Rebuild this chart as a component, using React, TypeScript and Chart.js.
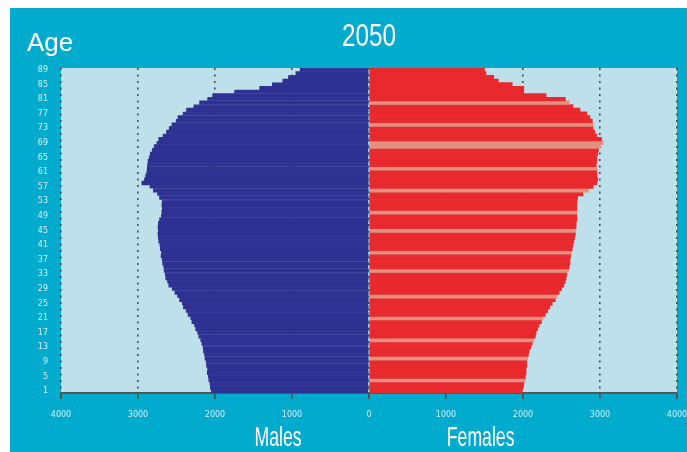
import React, { useEffect, useRef } from "react";
import { Chart, registerables } from "chart.js";

Chart.register(...registerables);

// Ages 1..89 (bottom to top)
const ages: number[] = [
  1, 2, 3, 4, 5, 6, 7, 8, 9, 10, 11, 12, 13, 14, 15, 16, 17, 18, 19, 20,
  21, 22, 23, 24, 25, 26, 27, 28, 29, 30, 31, 32, 33, 34, 35, 36, 37, 38, 39, 40,
  41, 42, 43, 44, 45, 46, 47, 48, 49, 50, 51, 52, 53, 54, 55, 56, 57, 58, 59, 60,
  61, 62, 63, 64, 65, 66, 67, 68, 69, 70, 71, 72, 73, 74, 75, 76, 77, 78, 79, 80,
  81, 82, 83, 84, 85, 86, 87, 88, 89,
];

// Males (thousands), age 1..89
const males: number[] = [
  2050, 2060, 2070, 2080, 2090, 2100, 2100, 2110, 2120, 2130,
  2140, 2150, 2160, 2170, 2190, 2210, 2230, 2250, 2270, 2300,
  2320, 2350, 2380, 2410, 2430, 2460, 2490, 2520, 2560, 2600,
  2620, 2640, 2650, 2660, 2670, 2680, 2690, 2700, 2700, 2710,
  2720, 2730, 2740, 2740, 2740, 2740, 2740, 2720, 2700, 2690,
  2690, 2690, 2690, 2720, 2750, 2800, 2850, 2950, 2920, 2900,
  2890, 2880, 2880, 2870, 2860, 2840, 2820, 2790, 2760, 2730,
  2680, 2630, 2600, 2560, 2510, 2480, 2420, 2370, 2280, 2200,
  2100, 2030, 1750, 1420, 1260, 1120, 1050, 950, 900,
];

// Females (thousands), age 1..89
const females: number[] = [
  1990, 2000, 2010, 2030, 2030, 2040, 2040, 2050, 2050, 2060,
  2070, 2080, 2100, 2120, 2140, 2160, 2170, 2190, 2210, 2240,
  2260, 2290, 2320, 2350, 2380, 2420, 2440, 2470, 2500, 2530,
  2550, 2560, 2570, 2590, 2600, 2610, 2610, 2620, 2630, 2640,
  2650, 2660, 2670, 2680, 2680, 2690, 2690, 2700, 2700, 2700,
  2700, 2700, 2700, 2710, 2780, 2850, 2910, 2960, 2970, 2960,
  2960, 2960, 2950, 2960, 2960, 2970, 2980, 3000, 3040, 3020,
  2960, 2930, 2910, 2910, 2900, 2870, 2830, 2740, 2650, 2600,
  2550, 2300, 2010, 2010, 1860, 1680, 1620, 1520, 1500,
];

// Ages whose female bar appears in the lighter (salmon) shade
const lightFemaleAges: number[] = [4, 10, 15, 21, 27, 34, 39, 45, 50, 56, 62, 68, 69, 74, 80];

const xTicks: number[] = [-4000, -3000, -2000, -1000, 0, 1000, 2000, 3000, 4000];

const TEAL = "#00abce";
const PLOT_BG = "#bde0ea";
const MALE = "#2e3192";
const MALE_LINE = "#3a3e9c";
const FEMALE = "#e8292d";
const FEMALE_LIGHT = "#e2907f";
const LABEL = "#d6eef5";

const bgPlugin = {
  id: "plotBg",
  beforeDraw(chart: any) {
    const { ctx, chartArea } = chart;
    ctx.save();
    ctx.fillStyle = PLOT_BG;
    ctx.fillRect(chartArea.left, chartArea.top, chartArea.right - chartArea.left, chartArea.bottom - chartArea.top);
    ctx.restore();
  },
};

function drawText(ctx: any, text: string, x: number, y: number, font: string, sx: number, align: string) {
  ctx.save();
  ctx.translate(x, y);
  ctx.scale(sx, 1);
  ctx.font = font;
  ctx.fillStyle = "#ffffff";
  ctx.textAlign = align;
  ctx.textBaseline = "middle";
  ctx.fillText(text, 0, 0);
  ctx.restore();
}

const textPlugin = {
  id: "texts",
  afterDraw(chart: any) {
    const { ctx, chartArea, scales } = chart;
    const cx = scales.x.getPixelForValue(0);
    drawText(ctx, "2050", cx, 29, "32px 'Liberation Sans'", 0.76, "center");
    drawText(ctx, "Age", 17, 36, "26px 'Liberation Sans'", 1, "left");
    const ly = chartArea.bottom + 45;
    drawText(ctx, "Males", scales.x.getPixelForValue(-1180), ly, "28px 'Liberation Sans'", 0.63, "center");
    drawText(ctx, "Females", scales.x.getPixelForValue(1450), ly, "28px 'Liberation Sans'", 0.63, "center");
  },
};

export default function App() {
  const ref = useRef<HTMLCanvasElement | null>(null);

  useEffect(() => {
    if (!ref.current) return;
    const chart = new Chart(ref.current, {
      type: "bar",
      data: {
        labels: ages.map((a) => String(a)),
        datasets: [
          {
            label: "Males",
            data: males.map((v) => -v),
            backgroundColor: MALE,
            borderColor: MALE_LINE,
            borderWidth: (c: any) => (c.dataIndex % 2 === 0 ? { top: 1, bottom: 0, left: 0, right: 0 } : 0),
            borderSkipped: false,
            barPercentage: 1,
            categoryPercentage: 1,
          },
          {
            label: "Females",
            data: females,
            backgroundColor: ages.map((a) => (lightFemaleAges.includes(a) ? FEMALE_LIGHT : FEMALE)),
            borderWidth: 0,
            barPercentage: 1,
            categoryPercentage: 1,
          },
        ],
      },
      options: {
        indexAxis: "y",
        responsive: false,
        animation: false,
        devicePixelRatio: 1,
        layout: { padding: { top: 60, right: 10, left: 0, bottom: 0 } },
        plugins: {
          legend: { display: false },
          tooltip: { enabled: false },
          title: { display: false },
        },
        scales: {
          x: {
            type: "linear",
            stacked: true,
            min: -4000,
            max: 4000,
            afterBuildTicks: (s: any) => {
              s.ticks = xTicks.map((v) => ({ value: v }));
            },
            afterFit: (s: any) => {
              s.height = 59;
              s.paddingRight = 0;
              s.paddingLeft = 0;
            },
            ticks: {
              callback: (v: any) => String(Math.abs(Number(v))),
              color: LABEL,
              font: { family: "DejaVu Sans", size: 8 },
              padding: 11,
              maxRotation: 0,
            },
            grid: {
              color: "#4a4a4a",
              lineWidth: 1.6,
              drawOnChartArea: true,
              drawTicks: true,
              tickLength: 6,
              tickColor: "#4a4a4a",
              tickWidth: 1.6,
            },
            border: { display: true, color: "#555555", width: 2, dash: [2, 4.5] },
          },
          y: {
            type: "category",
            stacked: true,
            reverse: true,
            afterFit: (s: any) => {
              s.width = 51;
            },
            ticks: {
              autoSkip: false,
              callback: (_v: any, i: number) => ((ages[i] - 1) % 4 === 0 ? String(ages[i]) : ""),
              color: LABEL,
              font: { family: "DejaVu Sans", size: 8 },
              padding: 13,
            },
            grid: { display: false, drawTicks: false },
            border: { display: false },
          },
        },
      } as any,
      plugins: [bgPlugin, textPlugin],
    });
    return () => chart.destroy();
  }, []);

  return (
    <div
      style={{
        position: "fixed",
        left: 10,
        top: 8,
        width: 677,
        height: 444,
        background: TEAL,
      }}
    >
      <canvas ref={ref} width={677} height={444} style={{ display: "block" }} />
    </div>
  );
}
